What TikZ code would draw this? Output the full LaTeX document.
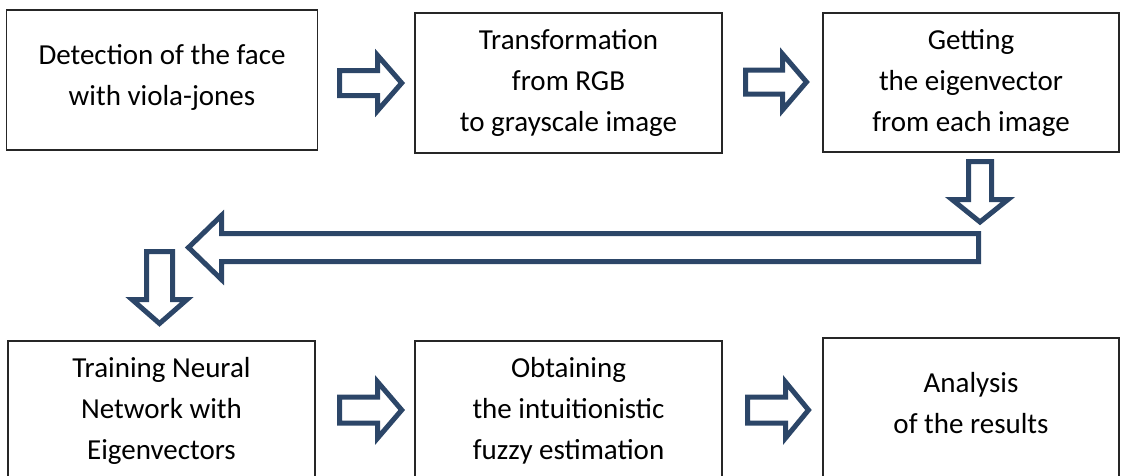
\documentclass[tikz,border=0pt]{standalone}
\usepackage{fontspec}
\setmainfont{Carlito}
\usetikzlibrary{calc}
\definecolor{arrowblue}{RGB}{44,70,104}
\tikzset{
  box/.style={draw=black!85, line width=1.3pt, rectangle, align=center, inner sep=0pt,
    font=\fontsize{29}{41}\selectfont},
  barrow/.style={draw=arrowblue, line width=5pt, line join=miter, fill=white}
}
\newcommand\blockarrow[5]{%
  \draw[barrow] ($(#1)!#3pt!90:(#2)$) -- ($(#2)!#5pt!(#1)!#3pt!90:(#2)$)
    -- ($(#2)!#5pt!(#1)!#4pt!90:(#2)$) -- (#2)
    -- ($(#2)!#5pt!(#1)!#4pt!-90:(#2)$) -- ($(#2)!#5pt!(#1)!#3pt!-90:(#2)$)
    -- ($(#1)!#3pt!-90:(#2)$) -- cycle;}
\begin{document}
\begin{tikzpicture}[x=1pt,y=-1pt]
\useasboundingbox (0,0) rectangle (1125,475);
\node[box, minimum width=311pt, minimum height=140pt] (b1) at (162,80) {};
\node[font=\fontsize{29}{41}\selectfont, align=center, inner sep=0pt] (t1) at (162,77.5) {Detection of the face\\with viola-jones};
\node[box, minimum width=307pt, minimum height=140pt] (b2) at (568.5,83) {Transformation\\from RGB\\to grayscale image};
\node[box, minimum width=296pt, minimum height=139pt] (b3) at (971,82.5) {Getting\\the eigenvector\\from each image};
\node[box, minimum width=307pt, minimum height=140pt] (b4) at (161.5,411) {Training Neural\\Network with\\Eigenvectors};
\node[box, minimum width=307pt, minimum height=140pt] (b5) at (568.5,411) {Obtaining\\the intuitionistic\\fuzzy estimation};
\node[box, minimum width=296pt, minimum height=140pt] (b6) at (971,408) {};
\node[font=\fontsize{29}{41}\selectfont, align=center, inner sep=0pt] (t6) at (971,403) {Analysis\\of the results};
% arrow end points
\coordinate (a1s) at (339.5,83);   \coordinate (a1t) at (401.7,83);
\coordinate (a2s) at (745.5,82);   \coordinate (a2t) at (806.5,82);
\coordinate (a3s) at (980,161.5);  \coordinate (a3t) at (980,222);
\coordinate (a4s) at (978.5,247.5);\coordinate (a4t) at (188.5,247.5);
\coordinate (a5s) at (159.5,251.5);\coordinate (a5t) at (159.5,323.5);
\coordinate (a6s) at (339.5,410);  \coordinate (a6t) at (401.7,410);
\coordinate (a7s) at (747.5,410);  \coordinate (a7t) at (808.5,410);
\blockarrow{a1s}{a1t}{12.5}{27.5}{24}
\blockarrow{a2s}{a2t}{12}{28}{24}
\blockarrow{a3s}{a3t}{11.5}{28}{22.5}
\blockarrow{a4s}{a4t}{14}{32}{33}
\blockarrow{a5s}{a5t}{13}{27.5}{24}
\blockarrow{a6s}{a6t}{13}{28}{24}
\blockarrow{a7s}{a7t}{13}{28}{23}
\end{tikzpicture}
\end{document}
